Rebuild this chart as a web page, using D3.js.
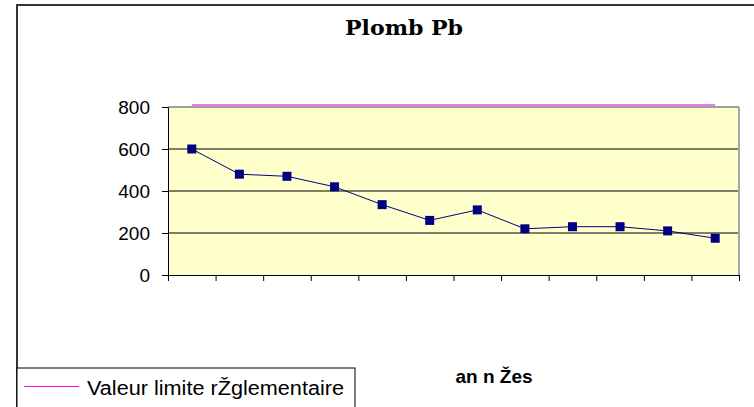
<!DOCTYPE html>
<html>
<head>
<meta charset="utf-8">
<script src="https://cdnjs.cloudflare.com/ajax/libs/d3/7.8.5/d3.min.js"></script>
<style>
  body { margin: 0; background: #fff; }
  svg { display: block; }
</style>
</head>
<body>
<svg width="754" height="407"></svg>
<script>
// chart data
var categories = ["1", "2", "3", "4", "5", "6", "7", "8", "9", "10", "11", "12"];
var plombValues = [600, 480, 470, 420, 335, 260, 310, 220, 230, 230, 210, 175];
var limitValues = [810, 810, 810, 810, 810, 810, 810, 810, 810, 810, 810, 810];
var yTicks = [0, 200, 400, 600, 800];

var svg = d3.select("svg");

var plot = { left: 168, top: 107, right: 739, bottom: 275 };

// outer chart border (runs off the right and bottom of the picture)
svg.append("rect")
    .attr("x", 17).attr("y", 5)
    .attr("width", 760).attr("height", 420)
    .attr("fill", "#fff")
    .attr("stroke", "#333").attr("stroke-width", 2);

// x: one slot per category, ticks on the slot edges
var x = d3.scaleLinear()
    .domain([0, categories.length])
    .range([plot.left, plot.right]);

var y = d3.scaleLinear()
    .domain([0, 800])
    .range([plot.bottom, plot.top]);

// plot area
svg.append("rect")
    .attr("x", plot.left).attr("y", plot.top)
    .attr("width", plot.right - plot.left).attr("height", plot.bottom - plot.top)
    .attr("fill", "#ffffcc");

// grid lines
svg.append("g")
  .selectAll("line")
  .data(yTicks.filter(function(d) { return d > 0 && d < 800; }))
  .enter().append("line")
    .attr("x1", plot.left).attr("x2", plot.right)
    .attr("y1", function(d) { return y(d); })
    .attr("y2", function(d) { return y(d); })
    .attr("stroke", "#000").attr("stroke-width", 1);

// plot area border, top and right in grey
svg.append("line")
    .attr("x1", plot.left).attr("x2", plot.right)
    .attr("y1", plot.top).attr("y2", plot.top)
    .attr("stroke", "#808080").attr("stroke-width", 1.5);
svg.append("line")
    .attr("x1", plot.right).attr("x2", plot.right)
    .attr("y1", plot.top).attr("y2", plot.bottom)
    .attr("stroke", "#a8a8a0").attr("stroke-width", 2);

// axes
var xAxis = d3.axisBottom(x)
    .tickValues(d3.range(categories.length + 1))
    .tickFormat("")
    .tickSize(6)
    .tickSizeOuter(0);

svg.append("g")
    .attr("transform", "translate(0," + plot.bottom + ")")
    .call(xAxis)
    .call(function(g) {
      g.select(".domain").attr("stroke", "#000");
      g.selectAll(".tick line").attr("stroke", "#000");
    });

var yAxis = d3.axisLeft(y)
    .tickValues(yTicks)
    .tickSize(6)
    .tickSizeOuter(0);

svg.append("g")
    .attr("transform", "translate(" + plot.left + ",0)")
    .call(yAxis)
    .call(function(g) {
      g.select(".domain").attr("stroke", "#000");
      g.selectAll(".tick line").attr("stroke", "#000");
      g.selectAll(".tick text")
        .attr("x", -18)
        .attr("font-family", "Liberation Sans, Arial, sans-serif")
        .attr("font-size", 19)
        .attr("fill", "#000");
    });

var cx = function(d, i) { return x(i + 0.5); };

// limit line
var limitLine = d3.line()
    .x(function(d, i) { return x(i + 0.5); })
    .y(function(d) { return y(d); });

svg.append("path")
    .datum(limitValues)
    .attr("d", limitLine)
    .attr("fill", "none")
    .attr("stroke", "#f07af0")
    .attr("stroke-width", 2);

// lead series
var line = d3.line()
    .x(function(d, i) { return x(i + 0.5); })
    .y(function(d) { return y(d); });

svg.append("path")
    .datum(plombValues)
    .attr("d", line)
    .attr("fill", "none")
    .attr("stroke", "#000080")
    .attr("stroke-width", 1);

svg.append("g")
  .selectAll("rect")
  .data(plombValues)
  .enter().append("rect")
    .attr("x", function(d, i) { return cx(d, i) - 4.5; })
    .attr("y", function(d) { return y(d) - 4.5; })
    .attr("width", 9).attr("height", 9)
    .attr("fill", "#000080");

// title
svg.append("text")
    .attr("x", 404).attr("y", 35)
    .attr("text-anchor", "middle")
    .attr("font-family", "DejaVu Serif, serif")
    .attr("font-weight", "bold")
    .attr("font-size", 20)
    .attr("textLength", 118)
    .attr("lengthAdjust", "spacingAndGlyphs")
    .text("Plomb Pb");

// x axis title
svg.append("text")
    .attr("x", 494).attr("y", 383)
    .attr("text-anchor", "middle")
    .attr("font-family", "Liberation Sans, Arial, sans-serif")
    .attr("font-weight", "bold")
    .attr("font-size", 19)
    .text("an n Žes");

// legend
svg.append("rect")
    .attr("x", 17).attr("y", 368)
    .attr("width", 338).attr("height", 60)
    .attr("fill", "#fff")
    .attr("stroke", "#000").attr("stroke-width", 1);

svg.append("line")
    .attr("x1", 24).attr("x2", 79)
    .attr("y1", 386.5).attr("y2", 386.5)
    .attr("stroke", "#ff00ff").attr("stroke-width", 1);

svg.append("text")
    .attr("x", 87).attr("y", 395)
    .attr("font-family", "Liberation Sans, Arial, sans-serif")
    .attr("font-size", 20)
    .attr("textLength", 257)
    .attr("lengthAdjust", "spacingAndGlyphs")
    .text("Valeur limite rŽglementaire");
</script>
</body>
</html>
